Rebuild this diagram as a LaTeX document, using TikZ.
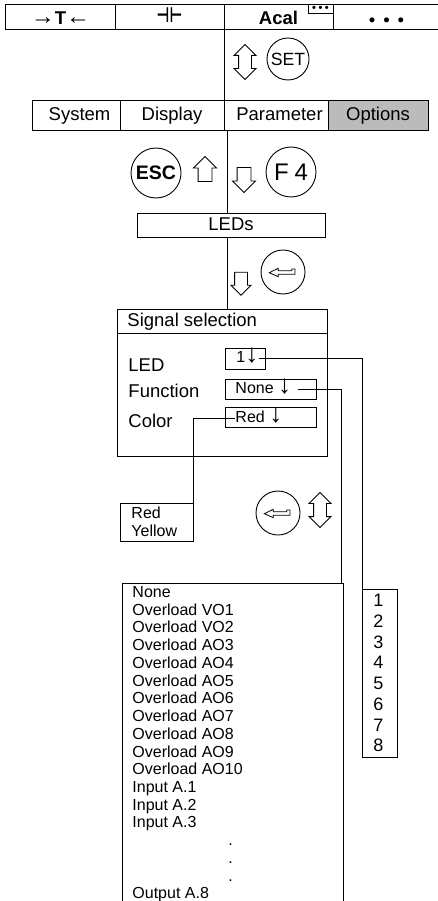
\documentclass[tikz,border=0pt]{standalone}
\usepackage{fontspec}
\setmainfont{Liberation Sans}
\newfontfamily\symbolfont{DejaVu Sans}
\usetikzlibrary{shapes,arrows}
\definecolor{optgray}{RGB}{187,187,187}
\tikzstyle{block} = [draw=black, rectangle, anchor=north west, inner sep=0pt, outer sep=0pt]
\tikzstyle{key} = [draw=black, circle, inner sep=0pt, outer sep=0pt]
\tikzstyle{tabtext} = [text height=14pt, text depth=3pt, font=\fontsize{18.5}{20}\selectfont]
\tikzstyle{label} = [anchor=west, inner sep=0pt, text height=14pt, text depth=4pt, font=\fontsize{18.5}{20}\selectfont]
\tikzstyle{small} = [anchor=west, inner sep=0pt, font=\fontsize{16}{17.73}\selectfont]
\tikzstyle{downarrow} = [draw=black, single arrow, shape border rotate=270, inner sep=6.5pt, single arrow head extend=4.5pt]
\tikzstyle{uparrow} = [draw=black, single arrow, shape border rotate=90, inner sep=6.5pt, single arrow head extend=4.5pt]
\tikzstyle{updown} = [draw=black, double arrow, shape border rotate=90, inner sep=6pt, double arrow head extend=4.5pt, minimum height=35pt]
\newcommand{\enterglyph}[1]{\draw[shift={(#1)}, line width=0.8pt] (-13.7,0.7) -- (-4.7,-3.7) -- (-4.7,-1.3) -- (8.7,-1.3) -- (8.7,-3) -- (12,-3) -- (12,2.3) -- (-4.7,2.3) -- (-4.7,4.7) -- cycle;}
\newcommand{\downsign}{{\fontsize{26}{20}\selectfont ↓}}
\newcommand{\longsign}[1]{{\fontsize{24}{20}\selectfont #1}}

\begin{document}
\begin{tikzpicture}[x=1pt, y=-1pt, line width=0.9pt]
	\clip (0,0) rectangle (438,901);

	% tab bar
	\node [block, tabtext, minimum width=110pt, minimum height=25pt] (timetab) at (5,4) {\hspace{1pt}\raisebox{-2.5pt}{\longsign{→}\textbf{T}\longsign{←}}};
	\node [block, tabtext, minimum width=109pt, minimum height=25pt] (captab) at (115,4) {\raisebox{-1pt}{\symbolfont\bfseries\fontsize{14}{14}\selectfont\scalebox{1}[1.5]{⊣⊢}}};
	\node [block, tabtext, minimum width=109pt, minimum height=25pt] (acaltab) at (224,4) {\raisebox{-2.5pt}{\textbf{Acal}}};
	\node [block, tabtext, minimum width=107pt, minimum height=25pt] (moretab) at (333,4) {\raisebox{-5pt}{\textbullet\hspace{8pt}\textbullet\hspace{8pt}\textbullet}};
	\node [block, minimum width=25pt, minimum height=9pt, anchor=north east, font=\fontsize{11}{9}\selectfont] (acalmark) at (333,4) {\textbf{\textbullet\hspace{2.5pt}\textbullet\hspace{2.5pt}\textbullet}};

	% menu row
	\node [block, tabtext, minimum width=88pt, minimum height=30pt] (sysbox) at (32,100) {\hspace{7pt}System};
	\node [block, tabtext, minimum width=104pt, minimum height=30pt] (dispbox) at (120,100) {Display};
	\node [block, tabtext, minimum width=104pt, minimum height=30pt] (parambox) at (224,100) {\hspace{7pt}Parameter};
	\node [block, tabtext, fill=optgray, minimum width=100pt, minimum height=30pt] (optbox) at (328,100) {Options};

	\draw (acaltab.south west) -- (parambox.north west);
	\node [updown] (setarrow) at (245,62) {};
	\node [key, minimum size=42pt, font=\fontsize{17.7}{18}\selectfont] (setkey) at (288,59) {SET};

	% keys down to the LEDs box
	\node [key, minimum size=50pt, font=\fontsize{19.5}{20}\selectfont\bfseries] (esckey) at (156,173) {ESC};
	\node [key, minimum size=50pt, font=\fontsize{24}{24}\selectfont] (fourkey) at (291,172) {F\hspace{6pt}4};
	\node [uparrow, minimum width=22pt, minimum height=25pt] (uparrowa) at (205,172.5) {};
	\node [downarrow, minimum width=22pt, minimum height=25pt] (downarrowa) at (244,176.5) {};
	\node [block, tabtext, minimum width=188pt, minimum height=24pt] (ledsbox) at (137,213) {LEDs};
	\node [downarrow, inner sep=6pt, minimum width=18.5pt, minimum height=23pt, single arrow head extend=3.5pt] (downarrowb) at (241,280.5) {};
	\node [key, minimum size=44pt] (enterkeya) at (283,272) {};
	\enterglyph{enterkeya}

	% signal selection window
	\node [block, minimum width=210pt, minimum height=147pt] (sigbox) at (117,309) {};
	\node [block, minimum width=210pt, minimum height=24pt] (sighead) at (117,309) {};
	\node [label] (sigtitle) at (127,321) {Signal selection};
	\node [label] (ledlabel) at (128,366) {LED};
	\node [label] (funclabel) at (128,392) {Function};
	\node [label] (colorlabel) at (128,422) {Color};
	\node [block, minimum width=40pt, minimum height=21pt] (ledbox) at (225,348) {};
	\node [block, minimum width=91pt, minimum height=20pt] (funcbox) at (225,379) {};
	\node [block, minimum width=91pt, minimum height=20pt] (colorbox) at (225,407) {};
	\node [small, text height=12pt, text depth=3pt] (ledval) at (236,358) {1\downsign};
	\node [small, text height=12pt, text depth=3pt] (funcval) at (235,389) {None \downsign};
	\node [small, text height=12pt, text depth=3pt] (colorval) at (235,418) {Red \downsign};

	% drop down lists
	\node [block, minimum width=73pt, minimum height=38pt] (colorlist) at (120,503) {};
	\node [small, align=left] (coloritems) at (131,522) {Red\\Yellow};
	\node [block, minimum width=221pt, minimum height=330pt] (funclist) at (122,583) {};
	\node [small, align=left, anchor=north west] (funcitems) at (132,586) {None\\Overload VO1\\Overload VO2\\Overload AO3\\Overload AO4\\Overload AO5\\Overload AO6\\Overload AO7\\Overload AO8\\Overload AO9\\Overload AO10\\Input A.1\\Input A.2\\Input A.3\\\hspace*{96pt}.\\\hspace*{96pt}.\\\hspace*{96pt}.\\Output A.8};
	\node [block, minimum width=35pt, minimum height=168pt] (numlist) at (362,589) {};
	\node [small, align=left, anchor=north west, font=\fontsize{18}{20.7}\selectfont] (numitems) at (373,594) {1\\2\\3\\4\\5\\6\\7\\8};

	\node [key, minimum size=44pt] (enterkeyb) at (278,513) {};
	\enterglyph{enterkeyb}
	\node [updown] (updownb) at (320,510) {};

	\coordinate (busline) at (227,130);
	\draw (busline) -- (busline |- ledsbox.north);
	\draw (busline |- ledsbox.south) -- (busline |- sigbox.north);

	\draw (ledval.east) -| (numlist.north west);
	\draw ([xshift=6pt]funcval.east) -| ([xshift=-2pt]funclist.north east);
	\draw (colorval.west) -| (colorlist.north east);
\end{tikzpicture}
\end{document}
